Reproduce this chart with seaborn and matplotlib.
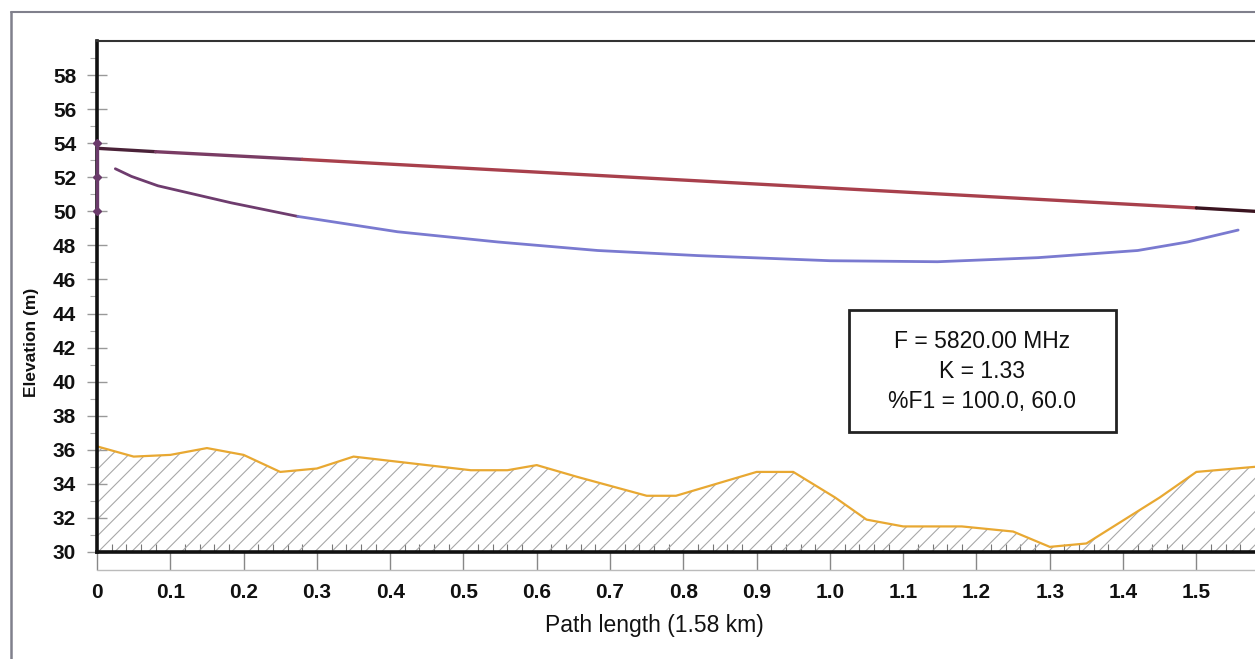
import matplotlib.pyplot as plt
import matplotlib.lines as mlines
import matplotlib.patches as mpatches
import seaborn as sns
import numpy as np

# path profile values (km, m)
terrain_x = [0.0, 0.05, 0.1, 0.15, 0.2, 0.25, 0.3, 0.35, 0.43, 0.51, 0.56, 0.6, 0.656,
             0.75, 0.79, 0.9, 0.95, 1.007, 1.05, 1.1, 1.18, 1.25, 1.30, 1.35, 1.45, 1.50, 1.58]
terrain_y = [36.2, 35.6, 35.7, 36.1, 35.7, 34.7, 34.9, 35.6, 35.2, 34.8, 34.8, 35.1, 34.4,
             33.3, 33.3, 34.7, 34.7, 33.2, 31.9, 31.5, 31.5, 31.2, 30.3, 30.5, 33.2, 34.7, 35.0]

# line of sight, split where its colour changes
los_x = [0.0, 0.08, 0.28, 1.5, 1.58]
los_y = [53.7, 53.5, 53.05, 50.2, 50.0]
los_colors = ['#4a2238', '#7a3c64', '#a8404c', '#3a1420']

fresnel_x = [0.025, 0.047, 0.083, 0.183, 0.274, 0.41, 0.547, 0.683, 0.82, 1.0,
             1.147, 1.284, 1.42, 1.488, 1.557]
fresnel_y = [52.5, 52.05, 51.5, 50.5, 49.7, 48.8, 48.2, 47.7, 47.4, 47.1,
             47.04, 47.28, 47.7, 48.2, 48.9]

antenna_x = [0.0, 0.0, 0.0]
antenna_y = [50.0, 52.0, 54.0]

info_lines = ["F = 5820.00 MHz", "K = 1.33", "%F1 = 100.0, 60.0"]

sns.set_style("white")
plt.rcParams['font.family'] = ['Liberation Sans', 'DejaVu Sans']
plt.rcParams['hatch.linewidth'] = 0.8

fig = plt.figure(figsize=(12.55, 6.59), dpi=100)
ax = fig.add_axes([0.0773, 0.1624, 0.9227, 0.7754])

# terrain with hatching
ax.fill_between(terrain_x, terrain_y, 30, facecolor='none', edgecolor='#a8a8a8',
                hatch='//', linewidth=0)
sns.lineplot(x=terrain_x, y=terrain_y, ax=ax, color='#e8a832', linewidth=1.6)

# line of sight
for i, c in enumerate(los_colors):
    sns.lineplot(x=los_x[i:i + 2], y=los_y[i:i + 2], ax=ax, color=c, linewidth=2.4)
# fresnel zone lower edge
sns.lineplot(x=fresnel_x[:5], y=fresnel_y[:5], ax=ax, color='#6e3c6e', linewidth=2.0)
sns.lineplot(x=fresnel_x[4:], y=fresnel_y[4:], ax=ax, color='#7a7ad0', linewidth=2.0)
# antenna mast
ax.plot(antenna_x, antenna_y, color='#6a3a6a', linewidth=2.4, marker='D',
        markersize=4, clip_on=False, zorder=5)

ax.set_xlim(0, 1.58)
ax.set_ylim(30, 60)
ax.set_xticks(np.arange(0, 1.51, 0.1))
ax.set_xticklabels(['0'] + [f"{v:.1f}" for v in np.arange(0.1, 1.51, 0.1)])
ax.set_xticks(np.arange(0, 1.58, 0.02), minor=True)
ax.set_yticks(np.arange(30, 59, 2))
ax.set_yticks(np.arange(31, 60, 2), minor=True)

ax.tick_params(axis='x', which='major', direction='out', length=13, width=1,
               color='#888888', labelsize=15, pad=9, bottom=True)
ax.tick_params(axis='x', which='minor', direction='in', length=6, width=0.8,
               color='#777777', bottom=True)
ax.tick_params(axis='y', which='major', direction='inout', length=14, width=1,
               color='#999999', labelsize=15, pad=8, left=True)
ax.tick_params(axis='y', which='minor', direction='out', length=5, width=0.8,
               color='#aaaaaa', left=True)
for lab in ax.get_xticklabels() + ax.get_yticklabels():
    lab.set_fontweight('bold')
    lab.set_color('#111111')

# scale ruler under the x axis
ax.plot([0, 1], [-0.035, -0.035], transform=ax.transAxes, color='#bbbbbb',
        linewidth=1, clip_on=False)

for side in ['left', 'bottom']:
    ax.spines[side].set_linewidth(2.6)
    ax.spines[side].set_color('#111111')
ax.spines['top'].set_linewidth(1.5)
ax.spines['top'].set_color('#333333')
ax.spines['right'].set_visible(False)

ax.set_xlabel("Path length (1.58 km)", fontsize=16.5, color='#111111')
ax.set_ylabel("Elevation (m)", fontsize=12.5, fontweight='bold', color='#111111')
ax.xaxis.set_label_coords(0.481, -0.122)
ax.yaxis.set_label_coords(-0.05, 0.41)

# info box
ax.add_patch(mpatches.Rectangle((1.026, 37.02), 0.364, 7.19, facecolor='white',
                                edgecolor='#222222', linewidth=2, zorder=6))
ax.text(1.208, 40.6, "\n".join(info_lines), ha='center', va='center',
        fontsize=16.5, linespacing=1.38, color='#111111', zorder=7)

# outer frame (open to the right and bottom)
fig.add_artist(mlines.Line2D([0.009, 0.009], [0.0, 0.982], color='#80808c', linewidth=1.8))
fig.add_artist(mlines.Line2D([0.009, 1.0], [0.982, 0.982], color='#80808c', linewidth=1.5))

plt.savefig("out.png", dpi=100)
